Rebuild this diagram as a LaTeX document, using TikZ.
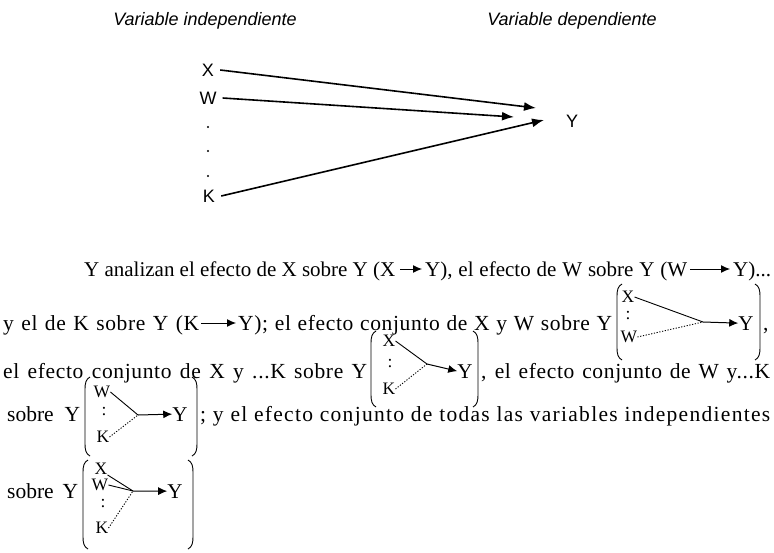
\documentclass[tikz,border=0pt]{standalone}
\usepackage{fontspec}
\setmainfont{Liberation Serif}
\newfontfamily\lsans{Liberation Sans}
\usetikzlibrary{arrows.meta}
\newcommand{\brkL}[3]{\draw[brk] (#1+5,#2) .. controls (#1+1,#2+2) and (#1,#2+6) .. (#1,#2+12) -- (#1,#3-12) .. controls (#1,#3-6) and (#1+1,#3-2) .. (#1+5,#3);}
\newcommand{\brkR}[3]{\draw[brk] (#1-5,#2) .. controls (#1-1,#2+2) and (#1,#2+6) .. (#1,#2+12) -- (#1,#3-12) .. controls (#1,#3-6) and (#1-1,#3-2) .. (#1-5,#3);}
\tikzset{
  txt/.style={inner sep=0pt, anchor=base west, font=\fontsize{21.5}{24}\selectfont},
  txtsp/.style={txt, font=\fontsize{21.5}{24}\selectfont\addfontfeature{LetterSpace=3}},
  lbl/.style={inner sep=0pt, font=\lsans\itshape\fontsize{18}{20}\selectfont},
  var/.style={inner sep=0pt, font=\lsans\fontsize{18}{20}\selectfont},
  mainarr/.style={line width=1.6pt, -{Latex[length=12pt,width=9pt]}},
  tarr/.style={line width=1pt, -{Latex[length=9pt,width=8pt]}},
  brk/.style={line width=0.9pt},
  leg/.style={line width=0.9pt},
  legd/.style={line width=0.9pt, dash pattern=on 1.2pt off 1.6pt},
  ilet/.style={inner sep=0pt, font=\fontsize{17.5}{19}\selectfont},
  iy/.style={inner sep=0pt, anchor=base, font=\fontsize{21}{24}\selectfont},
  dotn/.style={circle, fill, inner sep=0pt, minimum size=2.4pt},
}
\begin{document}
\begin{tikzpicture}[x=1pt,y=-1pt]
\useasboundingbox[fill=white] (0,0) rectangle (774,552);
% top diagram
\node[lbl] (li) at (205,21) {Variable independiente};
\node[lbl] (ld) at (572,21) {Variable dependiente};
\node[var] (X) at (208,70) {X};
\node[var] (W) at (208,98) {W};
\node[dotn] (d1) at (208,127) {};
\node[dotn] (d2) at (208,151) {};
\node[dotn] (d3) at (208,176) {};
\node[var] (K) at (209,196) {K};
\node[var] (Y) at (572,121) {Y};
\coordinate (tx) at (536,108);
\coordinate (tw) at (514,117);
\coordinate (tk) at (544,120);
\draw[mainarr] ([xshift=6pt]X.east) -- (tx);
\draw[mainarr] ([xshift=6pt]W.east) -- (tw);
\draw[mainarr] ([xshift=6pt]K.east) -- (tk);
% line 1
\node[txt, font=\fontsize{21}{24}\selectfont] (l1a) at (84,276) {\makebox[311pt][s]{Y analizan el efecto de X sobre Y (X}};
\node[txt, font=\fontsize{21}{24}\selectfont] (l1b) at (425,276) {\makebox[262pt][s]{Y), el efecto de W sobre Y (W}};
\node[txt, font=\fontsize{21}{24}\selectfont] (l1c) at (733,276) {Y)...};
\draw[tarr] ([shift={(5pt,7pt)}]l1a.base east) -- ([shift={(-3pt,7pt)}]l1b.base west);
\draw[tarr] ([shift={(3pt,7pt)}]l1b.base east) -- ([shift={(-3pt,7pt)}]l1c.base west);
% line 2
\node[txtsp] (l2a) at (3,330) {\makebox[196pt][s]{y el de K sobre Y (K}};
\node[txtsp] (l2b) at (238,330) {\makebox[374pt][s]{Y); el efecto conjunto de X y W sobre Y}};
\draw[tarr] ([shift={(2pt,7pt)}]l2a.base east) -- ([shift={(-2pt,7pt)}]l2b.base west);
\brkL{617}{284}{360}
\brkR{760}{284}{360}
\node[ilet] (b1x) at (628,297) {X};
\node[ilet] (b1c) at (628,316) {:};
\node[ilet] (b1w) at (629,337) {W};
\coordinate (b1j) at (703,322);
\node[iy] (b1y) at (746,330) {Y};
\draw[leg] (b1x.east) -- (b1j);
\draw[legd] (b1w.east) -- (b1j);
\draw[tarr] (b1j) -- (b1y.west);
\node[txt] (l2c) at (763,330) {,};
% line 3
\node[txtsp] (l3a) at (3,378) {\makebox[364pt][s]{el efecto conjunto de X y ...K sobre Y}};
\brkL{371}{331}{407}
\brkR{478}{331}{407}
\node[ilet] (b2x) at (389,341) {X};
\node[ilet] (b2c) at (390,364) {:};
\node[ilet] (b2k) at (389,389) {K};
\coordinate (b2j) at (427,364);
\node[iy] (b2y) at (465,378) {Y};
\draw[leg] (b2x.east) -- (b2j);
\draw[legd] (b2k.east) -- (b2j);
\draw[tarr] (b2j) -- (b2y.west);
\node[txtsp] (l3b) at (481,378) {\makebox[289pt][s]{, el efecto conjunto de W y...K}};
% line 4
\node[txt] (l4a) at (7,421) {\makebox[73pt][s]{sobre Y}};
\brkL{85}{377}{456}
\brkR{197}{377}{456}
\node[ilet] (b3w) at (102,392) {W};
\node[ilet] (b3c) at (104,412) {:};
\node[ilet] (b3k) at (103,437) {K};
\coordinate (b3j) at (138,415);
\node[iy] (b3y) at (180,421) {Y};
\draw[leg] (b3w.east) -- (b3j);
\draw[legd] (b3k.east) -- (b3j);
\draw[tarr] (b3j) -- (b3y.west);
\node[txt, font=\fontsize{21.5}{24}\selectfont\addfontfeature{LetterSpace=6}] (l4b) at (200,421) {\makebox[570pt][s]{; y el efecto conjunto de todas las variables independientes}};
% line 5
\node[txt] (l5a) at (7,498) {\makebox[71pt][s]{sobre Y}};
\brkL{83}{460}{549}
\brkR{193}{460}{549}
\node[ilet] (b4x) at (101,469) {X};
\node[ilet] (b4w) at (100,485) {W};
\node[ilet] (b4c) at (103,504) {:};
\node[ilet] (b4k) at (102,528) {K};
\coordinate (b4j) at (133,491);
\node[iy] (b4y) at (175,498) {Y};
\draw[leg] (b4x.south east) -- (b4j);
\draw[leg] (b4w.east) -- (b4j);
\draw[legd] (b4k.east) -- (b4j);
\draw[tarr] (b4j) -- (b4y.west);
\end{tikzpicture}
\end{document}
